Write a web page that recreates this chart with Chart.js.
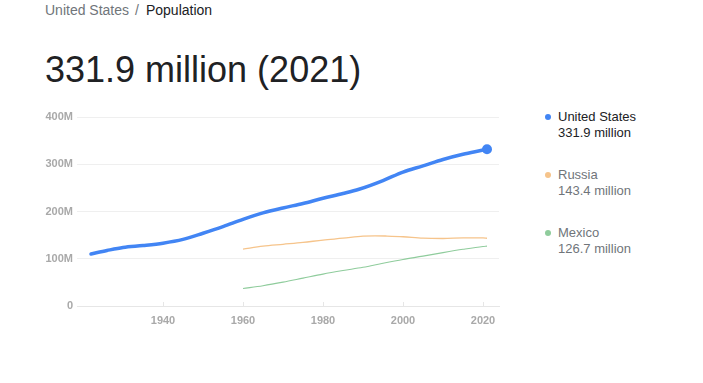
<!DOCTYPE html>
<html>
<head>
<meta charset="utf-8">
<script src="https://cdn.jsdelivr.net/npm/chart.js@4"></script>
<style>
  html, body { margin: 0; padding: 0; background: #fff; width: 703px; height: 383px; overflow: hidden; font-family: "Liberation Sans", Arial, sans-serif; }
  #crumb { position: absolute; left: 45px; top: 2px; font-size: 14px; color: #70757a; white-space: nowrap; }
  #crumb .sep { margin: 0 7px 0 6px; }
  #crumb .cur { color: #202124; }
  #big { position: absolute; left: 45px; top: 48px; font-size: 36px; color: #202124; white-space: nowrap; line-height: 44px; }
  #wrap { position: absolute; left: 0; top: 101px; width: 520px; height: 240px; }
  .leg { position: absolute; left: 558px; font-size: 13px; line-height: 16px; color: #70757a; white-space: nowrap; }
  .leg.sel { color: #202124; }
  .dot { position: absolute; left: -13px; top: 5px; width: 6px; height: 6px; border-radius: 50%; }
</style>
</head>
<body>
<div id="crumb">United States<span class="sep">/</span><span class="cur">Population</span></div>
<div id="big">331.9 million (2021)</div>
<div id="wrap"><canvas id="c"></canvas></div>
<div id="legend"></div>
<script>
// Data (population in millions)
const usYears = [1922, 1926, 1930, 1935, 1940, 1945, 1950, 1955, 1960, 1965, 1970, 1975, 1980, 1985, 1989, 1995, 2000, 2005, 2010, 2015, 2020, 2021];
const usValues = [110.0, 117.5, 124.0, 128.0, 133.0, 141.0, 154.0, 168.0, 183.5, 197.0, 207.5, 217.0, 228.0, 238.0, 247.0, 265.5, 283.5, 296.5, 310.0, 321.0, 330.0, 331.9];
const ruYears = [1960, 1965, 1970, 1975, 1980, 1985, 1990, 1993, 1996, 2000, 2005, 2010, 2015, 2020, 2021];
const ruValues = [120.5, 126.5, 130.5, 134.5, 139.5, 143.5, 148.0, 148.6, 148.0, 146.6, 143.5, 142.9, 144.0, 144.1, 143.4];
const mxYears = [1960, 1965, 1970, 1975, 1980, 1985, 1990, 1995, 2000, 2005, 2010, 2015, 2020, 2021];
const mxValues = [37.0, 43.0, 50.5, 59.0, 67.5, 75.0, 82.0, 90.5, 98.5, 105.5, 113.0, 120.0, 126.0, 126.7];
const xTicks = [1940, 1960, 1980, 2000, 2020];
const yTicks = [0, 100, 200, 300, 400];
const seriesNames = ["United States", "Russia", "Mexico"];
const latestLabels = ["331.9 million", "143.4 million", "126.7 million"];
const colors = ["#4285f4", "#f6c48b", "#8fcc9c"];

const toPts = (xs, ys) => xs.map((x, i) => ({ x: x, y: ys[i] }));

// HTML legend
const legendTops = [109, 167, 225];
const legend = document.getElementById('legend');
seriesNames.forEach((n, i) => {
  const d = document.createElement('div');
  d.className = 'leg' + (i === 0 ? ' sel' : '');
  d.style.top = legendTops[i] + 'px';
  d.innerHTML = '<span class="dot" style="background:' + colors[i] + '"></span>' + n + '<br>' + latestLabels[i];
  legend.appendChild(d);
});

const tickMarks = {
  id: 'tickMarks',
  afterDatasetsDraw(chart) {
    const ctx = chart.ctx, xs = chart.scales.x, bottom = chart.chartArea.bottom;
    ctx.save();
    ctx.strokeStyle = '#e6e6e6';
    ctx.lineWidth = 1;
    xTicks.forEach(t => {
      const px = Math.round(xs.getPixelForValue(t)) + 0.5;
      ctx.beginPath(); ctx.moveTo(px, bottom - 4); ctx.lineTo(px, bottom); ctx.stroke();
    });
    ctx.restore();
  }
};

new Chart(document.getElementById('c'), {
  type: 'line',
  data: {
    datasets: [
      { label: seriesNames[0], data: toPts(usYears, usValues), borderColor: colors[0], backgroundColor: colors[0], borderWidth: 3.5,
        pointRadius: usYears.map((y, i) => i === usYears.length - 1 ? 5 : 0), pointBorderWidth: 0, cubicInterpolationMode: 'monotone', borderCapStyle: 'round', order: 0 },
      { label: seriesNames[1], data: toPts(ruYears, ruValues), borderColor: colors[1], borderWidth: 1.3, pointRadius: 0, cubicInterpolationMode: 'monotone', order: 1 },
      { label: seriesNames[2], data: toPts(mxYears, mxValues), borderColor: colors[2], borderWidth: 1.1, pointRadius: 0, cubicInterpolationMode: 'monotone', order: 2 }
    ]
  },
  options: {
    responsive: true,
    maintainAspectRatio: false,
    animation: false,
    events: [],
    layout: { padding: { top: 16, right: 21, left: 0, bottom: 0 } },
    plugins: { legend: { display: false }, tooltip: { enabled: false } },
    scales: {
      x: {
        type: 'linear', min: 1918.5, max: 2024,
        afterBuildTicks: s => { s.ticks = xTicks.map(v => ({ value: v })); },
        afterFit: s => { s.height = 35; },
        grid: { display: false, drawTicks: false },
        border: { display: true, color: '#e6e6e6' },
        ticks: { padding: 8, color: '#a9a9a9', font: { family: 'Liberation Sans', size: 11, weight: 'bold' }, callback: v => String(v), maxRotation: 0 }
      },
      y: {
        min: 0, max: 400,
        afterBuildTicks: s => { s.ticks = yTicks.map(v => ({ value: v })); },
        afterFit: s => { s.width = 77; },
        grid: { color: '#efefef', drawTicks: false },
        border: { display: false },
        ticks: { padding: 4, color: '#a9a9a9', font: { family: 'Liberation Sans', size: 11, weight: 'bold' }, callback: v => v === 0 ? '0' : v + 'M' }
      }
    }
  },
  plugins: [tickMarks]
});
</script>
</body>
</html>
